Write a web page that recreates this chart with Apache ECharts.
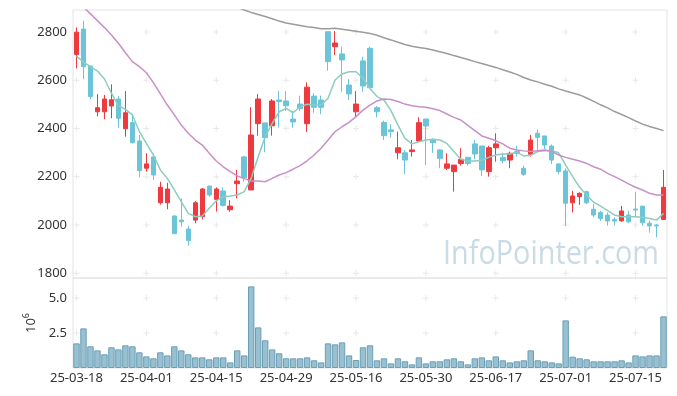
<!DOCTYPE html>
<html><head><meta charset="utf-8">
<script src="https://cdn.jsdelivr.net/npm/echarts@6/dist/echarts.min.js"></script>
<style>html,body{margin:0;padding:0;background:#fff}#c{width:677px;height:396px}</style>
</head><body><div id="c"></div>
<script>
const dates = ['25-03-18','25-03-19','25-03-20','25-03-21','25-03-24','25-03-25','25-03-26','25-03-27','25-03-28','25-03-31',
'25-04-01','25-04-02','25-04-03','25-04-04','25-04-07','25-04-08','25-04-09','25-04-10','25-04-11','25-04-14',
'25-04-15','25-04-16','25-04-17','25-04-18','25-04-21','25-04-22','25-04-23','25-04-24','25-04-25','25-04-28',
'25-04-29','25-04-30','25-05-02','25-05-07','25-05-08','25-05-09','25-05-12','25-05-13','25-05-14','25-05-15',
'25-05-16','25-05-19','25-05-20','25-05-21','25-05-22','25-05-23','25-05-26','25-05-27','25-05-28','25-05-29',
'25-05-30','25-06-02','25-06-04','25-06-05','25-06-09','25-06-10','25-06-11','25-06-12','25-06-13','25-06-16',
'25-06-17','25-06-18','25-06-19','25-06-20','25-06-23','25-06-24','25-06-25','25-06-26','25-06-27','25-06-30',
'25-07-01','25-07-02','25-07-03','25-07-04','25-07-07','25-07-08','25-07-09','25-07-10','25-07-11','25-07-14',
'25-07-15','25-07-16','25-07-17','25-07-18','25-07-21'];

const opens = [2707,2812,2659,2469,2469,2493,2522,2399,2424,2348,
2235,2282,2092,2092,2037,2020,1983,2020,2034,2161,
2106,2141,2063,2171,2282,2145,2420,2423,2411,2518,
2514,2439,2501,2420,2534,2518,2801,2739,2709,2580,
2469,2680,2732,2486,2425,2394,2299,2299,2304,2348,
2439,2352,2311,2235,2221,2255,2280,2336,2327,2221,
2320,2280,2269,2304,2235,2293,2380,2369,2327,2253,
2224,2092,2117,2138,2065,2052,2041,2023,2017,2041,
2066,2078,2007,2000,2023];
const closes = [2799,2656,2532,2486,2522,2519,2442,2465,2341,2225,
2253,2207,2156,2149,1964,2013,1935,2092,2149,2124,
2149,2081,2078,2182,2196,2373,2522,2362,2514,2511,
2494,2427,2482,2571,2488,2488,2677,2754,2684,2543,
2501,2576,2569,2469,2370,2387,2320,2269,2311,2424,
2410,2341,2276,2253,2248,2272,2255,2294,2228,2320,
2336,2266,2297,2297,2210,2352,2363,2331,2269,2221,
2090,2120,2131,2092,2041,2027,2016,2016,2058,2013,
2062,2009,1996,1996,2156];
const lows = [2649,2604,2521,2450,2438,2442,2403,2366,2338,2197,
2221,2186,2084,2065,1961,1993,1914,2007,2023,2117,
2055,2076,2055,2110,2179,2145,2370,2301,2370,2403,
2472,2403,2472,2386,2465,2459,2639,2704,2552,2518,
2449,2552,2566,2446,2352,2362,2272,2211,2283,2348,
2248,2299,2235,2228,2138,2246,2246,2272,2203,2200,
2262,2255,2235,2283,2204,2283,2311,2313,2253,2210,
1996,2052,2083,2087,2032,2016,1997,1997,2013,2008,
2034,1997,1968,1949,2023];
const highs = [2819,2847,2659,2542,2539,2583,2534,2555,2459,2373,
2297,2297,2179,2175,2041,2110,1996,2099,2152,2164,
2156,2156,2103,2228,2286,2488,2542,2423,2522,2555,
2555,2472,2536,2591,2546,2536,2801,2804,2739,2604,
2555,2697,2739,2493,2432,2417,2387,2311,2352,2446,
2439,2359,2313,2297,2248,2318,2283,2352,2328,2328,
2380,2299,2304,2328,2246,2373,2396,2369,2334,2255,
2235,2141,2135,2142,2087,2059,2052,2032,2079,2059,
2138,2078,2018,2004,2228];

const ma5 = [2700,2675,2656,2638,2605,2546,2494,2479,2456,2387,
2338,2290,2228,2193,2145,2096,2048,2034,2037,2069,
2100,2117,2120,2124,2138,2193,2283,2366,2421,2469,
2483,2465,2490,2500,2497,2497,2525,2601,2626,2635,
2635,2608,2566,2532,2518,2474,2414,2359,2336,2345,
2352,2355,2352,2338,2304,2272,2265,2265,2268,2280,
2290,2294,2294,2301,2286,2289,2304,2308,2308,2299,
2248,2200,2156,2124,2094,2078,2059,2041,2034,2034,
2034,2032,2027,2020,2048];
const ma20 = [2932,2904,2875,2847,2818,2787,2753,2714,2677,2656,
2631,2590,2543,2497,2456,2414,2380,2352,2331,2297,
2265,2241,2221,2203,2192,2182,2182,2179,2193,2207,
2217,2231,2246,2266,2290,2318,2352,2387,2407,2425,
2449,2476,2497,2514,2522,2520,2512,2501,2494,2490,
2488,2482,2474,2460,2446,2435,2413,2391,2369,2359,
2349,2336,2318,2311,2307,2304,2308,2311,2305,2290,
2280,2272,2265,2255,2241,2231,2214,2200,2186,2170,
2156,2145,2131,2124,2124];
const ma60 = [3155,3144,3133,3122,3111,3100,3089,3078,3067,3056,
3045,3034,3023,3012,3001,2990,2979,2968,2957,2946,
2935,2924,2913,2902,2891,2881,2872,2864,2855,2845,
2837,2832,2827,2822,2818,2813,2813,2815,2811,2807,
2803,2799,2794,2786,2776,2767,2757,2748,2741,2736,
2731,2725,2718,2711,2702,2694,2686,2677,2669,2661,
2653,2643,2634,2624,2611,2601,2593,2583,2575,2564,
2555,2547,2539,2526,2512,2498,2485,2470,2458,2445,
2431,2418,2408,2400,2391];

const volumes = [1.76,2.83,1.55,1.26,0.98,1.48,1.33,1.62,1.55,1.12,
0.83,0.69,1.12,0.90,1.55,1.26,0.98,0.76,0.76,0.62,
0.76,0.76,0.40,1.26,0.90,5.83,2.90,1.98,1.33,1.05,
0.69,0.69,0.69,0.76,0.55,0.40,1.76,1.69,1.83,0.90,
0.57,1.48,1.62,0.55,0.69,0.33,0.69,0.48,0.26,0.76,
0.33,0.48,0.48,0.62,0.69,0.48,0.26,0.69,0.76,0.55,
0.83,0.55,0.40,0.48,0.55,1.26,0.55,0.48,0.40,0.33,
3.40,0.81,0.69,0.62,0.48,0.48,0.48,0.48,0.55,0.40,
0.90,0.83,0.90,0.90,3.69];

const priceTicks = [1800,2000,2200,2400,2600,2800];
const volTicks = [2.5,5.0];
const volUnitName = '10';
const volUnitExp = '6';
const watermark = 'InfoPointer.com';

const FONT = "'Noto Sans', sans-serif";
const WM_FONT = "'Open Sans', sans-serif";
const WM_SIZE = 33;
const WM_WIDTH = 216;
const mctx = document.createElement('canvas').getContext('2d');
mctx.font = WM_SIZE + 'px ' + WM_FONT;
const wmScale = WM_WIDTH / mctx.measureText(watermark).width;

const crossPath = 'path://M2.5,0H3.5V6H2.5ZM0,2.5H6V3.5H0Z';
const labelIdx = dates.map((d, i) => i).filter(i => i % 10 === 0);
const priceCross = [];
labelIdx.forEach(i => priceTicks.forEach(v => priceCross.push([i, v])));
const volCross = [];
labelIdx.forEach(i => volTicks.forEach(v => volCross.push([i, v])));
const candles = dates.map((d, i) => [opens[i], closes[i], lows[i], highs[i]]);

const chart = echarts.init(document.getElementById('c'));
const lineSeries = (name, data, color) => ({
  name, type: 'line', data, xAxisIndex: 0, yAxisIndex: 0,
  symbol: 'none', smooth: false, clip: true, silent: true,
  lineStyle: { color, width: 1.5 }, z: 3
});
chart.setOption({
  animation: false,
  graphic: [{
    type: 'text', x: 443, y: 238, scaleX: wmScale, z: 1, silent: true,
    style: { text: watermark, fontSize: WM_SIZE, fontFamily: WM_FONT, fill: '#c9dbe5' }
  }],
  grid: [
    { left: 73, right: 10, top: 10, height: 268, show: true, borderColor: '#e3e3e3', borderWidth: 1 },
    { left: 73, right: 10, top: 278, height: 90, show: true, borderColor: '#e3e3e3', borderWidth: 1 }
  ],
  xAxis: [
    { type: 'category', gridIndex: 0, data: dates, boundaryGap: true,
      axisLine: { show: false }, axisTick: { show: false }, axisLabel: { show: false }, splitLine: { show: false } },
    { type: 'category', gridIndex: 1, data: dates, boundaryGap: true,
      axisLine: { show: false }, axisTick: { show: false }, splitLine: { show: false },
      axisLabel: { interval: 9, fontSize: 13, color: '#333', fontFamily: FONT, margin: 4 } }
  ],
  yAxis: [
    { type: 'value', gridIndex: 0, min: 1780, max: 2891, splitNumber: 5,
      axisLine: { show: false }, axisTick: { show: false }, splitLine: { show: false },
      axisLabel: { showMinLabel: false, showMaxLabel: false, fontSize: 13, color: '#333', margin: 6, fontFamily: FONT,
        formatter: v => String(Math.round(v)) } },
    { type: 'value', gridIndex: 1, min: 0, max: 6.43, interval: 2.5,
      axisLine: { show: false }, axisTick: { show: false }, splitLine: { show: false },
      axisLabel: { showMinLabel: false, showMaxLabel: false, fontSize: 13, color: '#333', margin: 6, fontFamily: FONT,
        formatter: v => v.toFixed(1) },
      name: '{b|' + volUnitName + '}{s|' + volUnitExp + '}', nameLocation: 'middle', nameRotate: 90, nameGap: 34,
      nameTextStyle: { fontFamily: FONT, color: '#333',
        rich: { b: { fontSize: 13, lineHeight: 16, verticalAlign: 'bottom', fontFamily: FONT, color: '#333' },
                s: { fontSize: 9, lineHeight: 10, verticalAlign: 'top', fontFamily: FONT, color: '#333' } } } }
  ],
  series: [
    { type: 'scatter', xAxisIndex: 0, yAxisIndex: 0, data: priceCross, symbol: crossPath, symbolSize: 6,
      itemStyle: { color: '#e2e2e2' }, silent: true, z: 1 },
    { type: 'scatter', xAxisIndex: 1, yAxisIndex: 1, data: volCross, symbol: crossPath, symbolSize: 6,
      itemStyle: { color: '#e2e2e2' }, silent: true, z: 1 },
    { type: 'candlestick', xAxisIndex: 0, yAxisIndex: 0, data: candles, barWidth: 5, z: 2,
      itemStyle: { color: '#ee3a3f', color0: '#6cc4d8', borderColor: '#ee3a3f', borderColor0: '#6cc4d8', borderWidth: 1 } },
    lineSeries('MA5', ma5, '#8ccdbf'),
    lineSeries('MA20', ma20, '#c98fc9'),
    lineSeries('MA60', ma60, '#9b9b9b'),
    { type: 'bar', xAxisIndex: 1, yAxisIndex: 1, data: volumes, barWidth: '92%', silent: true,
      itemStyle: { color: '#98c0d0', borderColor: '#6a9fb6', borderWidth: 1 } }
  ]
});
</script></body></html>
